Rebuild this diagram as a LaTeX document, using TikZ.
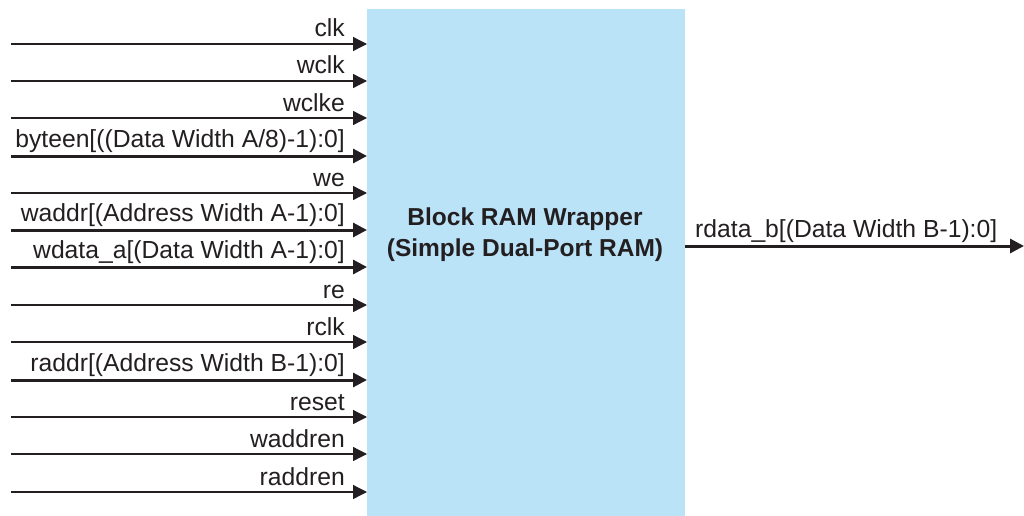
\documentclass[tikz,border=0pt]{standalone}
\usepackage{fontspec}
\setmainfont{Liberation Sans}
\usetikzlibrary{arrows.meta}
\definecolor{blockblue}{HTML}{BBE3F8}
\definecolor{linegray}{HTML}{231F20}
\begin{document}
\begin{tikzpicture}[x=1pt,y=-1pt,
  sig/.style={draw=linegray,line width=1.3pt,-{Triangle[length=14pt,width=14pt]}},
  bus/.style={draw=linegray,line width=3pt,-{Triangle[length=14pt,width=14pt]}},
  lbl/.style={anchor=base east,inner sep=0pt,font=\fontsize{24.7}{28}\selectfont,text=linegray},
  olbl/.style={anchor=base west,inner sep=0pt,font=\fontsize{24.7}{28}\selectfont,text=linegray},
  blockbox/.style={fill=blockblue,draw=none,inner sep=0pt}]
\useasboundingbox (0,0) rectangle (1024,516);
\node[blockbox,minimum width=318pt,minimum height=507pt,anchor=north west] (blk) at (367,9) {};
\node[font=\bfseries\fontsize{24.5}{31}\selectfont,align=center,text=linegray,inner sep=0pt,anchor=base] (title) at (525,256) {Block RAM Wrapper\\(Simple Dual-Port RAM)};
\foreach \name/\y/\st/\dy/\txt in {
  clk/44/sig/7/{clk},
  wclk/81/sig/7/{wclk},
  wclke/118/sig/7/{wclke},
  byteen/156/bus/9/{byteen[((Data Width A/8)-1):0]},
  we/193/sig/7/{we},
  waddr/230/bus/9/{waddr[(Address Width A-1):0]},
  wdata/267/bus/9/{wdata\_a[(Data Width A-1):0]},
  re/305/sig/7/{re},
  rclk/342/sig/7/{rclk},
  raddr/380/bus/9/{raddr[(Address Width B-1):0]},
  reset/417/sig/7/{reset},
  waddren/454/sig/7/{waddren},
  raddren/492/sig/7/{raddren}}{
  \coordinate (\name-s) at (11,\y);
  \coordinate (\name-e) at (blk.west |- 0,\y);
  \draw[\st] (\name-s) -- (\name-e);
  \node[lbl] (\name-l) at (345,\y-\dy) {\txt};
}
\coordinate (out-s) at (blk.east |- 0,246);
\coordinate (out-e) at (1024,246);
\draw[bus] (out-s) -- (out-e);
\node[olbl] (out-l) at (695,237) {rdata\_b[(Data Width B-1):0]};
\end{tikzpicture}
\end{document}
